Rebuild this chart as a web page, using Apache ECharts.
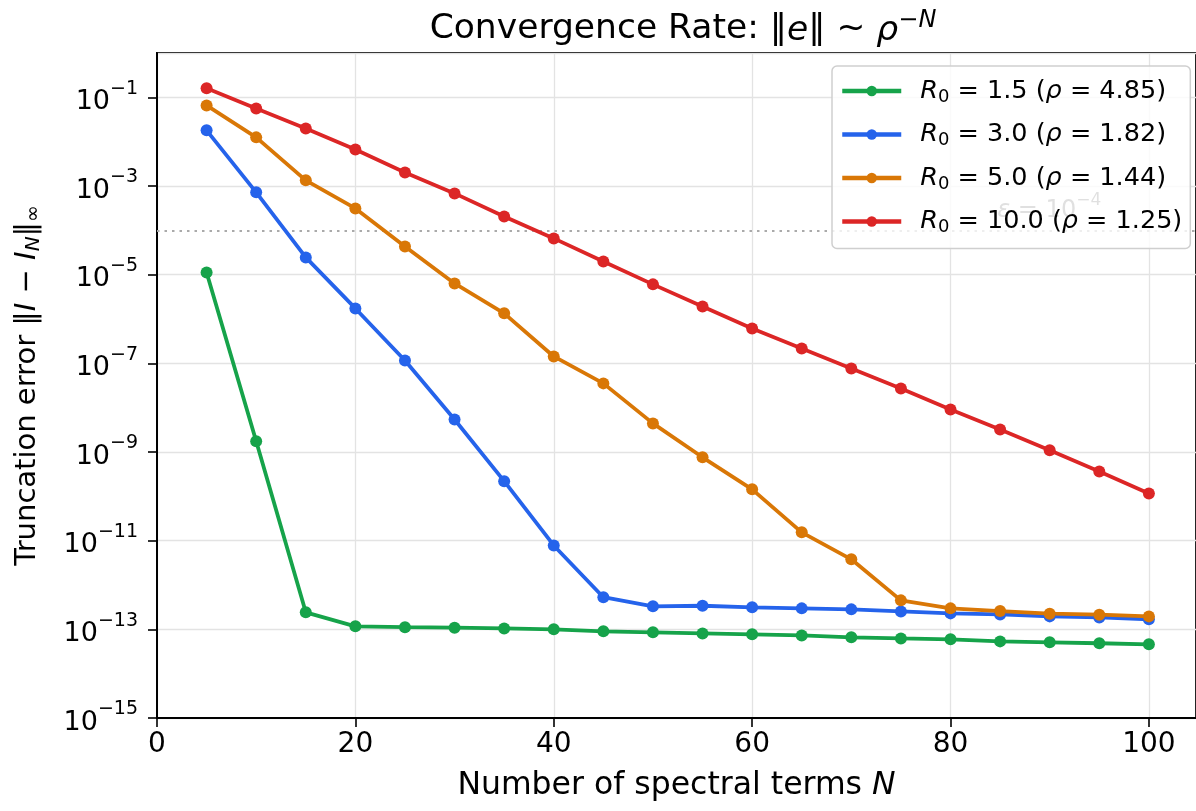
<!DOCTYPE html>
<html>
<head>
<meta charset="utf-8">
<script src="https://cdn.jsdelivr.net/npm/echarts@6/dist/echarts.min.js"></script>
<style>
  html, body { margin: 0; padding: 0; background: #fff; }
  #chart { width: 1196px; height: 811px; }
</style>
</head>
<body>
<div id="chart"></div>
<script>
// spectral terms N
const N_list = [5, 10, 15, 20, 25, 30, 35, 40, 45, 50, 55, 60, 65, 70, 75, 80, 85, 90, 95, 100];

// truncation error per R0
const err_r15 = [1.12e-5, 1.74e-9, 2.42e-13, 1.17e-13, 1.12e-13, 1.09e-13, 1.05e-13, 1.0e-13, 9.0e-14, 8.55e-14,
                 8.1e-14, 7.7e-14, 7.3e-14, 6.6e-14, 6.25e-14, 5.95e-14, 5.35e-14, 5.1e-14, 4.85e-14, 4.6e-14];
const err_r30 = [1.8e-2, 7.2e-4, 2.45e-5, 1.73e-6, 1.16e-7, 5.4e-9, 2.2e-10, 7.8e-12, 5.3e-13, 3.3e-13,
                 3.4e-13, 3.13e-13, 2.97e-13, 2.82e-13, 2.54e-13, 2.29e-13, 2.17e-13, 1.96e-13, 1.86e-13, 1.68e-13];
const err_r50 = [6.56e-2, 1.25e-2, 1.34e-3, 3.12e-4, 4.34e-5, 6.35e-6, 1.34e-6, 1.43e-7, 3.53e-8, 4.42e-9,
                 7.6e-10, 1.44e-10, 1.54e-11, 3.8e-12, 4.5e-13, 2.97e-13, 2.58e-13, 2.26e-13, 2.14e-13, 1.96e-13];
const err_r100 = [0.161, 5.62e-2, 1.99e-2, 6.68e-3, 2.02e-3, 6.81e-4, 2.06e-4, 6.58e-5, 1.99e-5, 6.04e-6,
                  1.92e-6, 6.14e-7, 2.17e-7, 7.67e-8, 2.72e-8, 9.12e-9, 3.23e-9, 1.09e-9, 3.65e-10, 1.16e-10];

const R0_list = ['1.5', '3.0', '5.0', '10.0'];
const rho_list = ['4.85', '1.82', '1.44', '1.25'];
const colors = ['#16a34a', '#2563eb', '#d97706', '#dc2626'];
const all_err = [err_r15, err_r30, err_r50, err_r100];

const eps = 1e-4;
const eps_label_x = 96;

const FONT = 'DejaVu Sans';
const names = R0_list.map((r, i) => 'R0 = ' + r + ' (rho = ' + rho_list[i] + ')');

const my_echart = echarts.init(document.getElementById('chart'), null, {renderer: 'canvas'});

let series = all_err.map((arr, i) => ({
  name: names[i],
  type: 'line',
  z: 2,
  data: N_list.map((n, j) => [n, arr[j]]),
  symbol: 'circle',
  symbolSize: 12,
  showSymbol: true,
  color: colors[i],
  lineStyle: { width: 3.8, color: colors[i] },
  itemStyle: { color: colors[i] },
  emphasis: { disabled: true },
}));

// dotted threshold line + its label
series[0].markLine = {
  silent: true,
  symbol: 'none',
  animation: false,
  z: 1,
  data: [
    [
      { coord: [0, eps], lineStyle: { color: '#aaa', width: 1.8, type: [2.5, 5] }, label: { show: false } },
      { coord: [104.75, eps] }
    ],
    [
      { coord: [0, eps], lineStyle: { color: 'rgba(0,0,0,0)', width: 0 },
        label: {
          show: true,
          position: 'insideEndTop',
          distance: 8,
          formatter: '{e|ε}{t| = 10}{s|−4}',
          rich: {
            e: { fontFamily: FONT, fontStyle: 'italic', fontSize: 24, color: '#666', lineHeight: 30, verticalAlign: 'bottom' },
            t: { fontFamily: FONT, fontSize: 24, color: '#666', lineHeight: 30, verticalAlign: 'bottom' },
            s: { fontFamily: FONT, fontSize: 17, color: '#666', lineHeight: 18, verticalAlign: 'top' }
          }
        }
      },
      { coord: [eps_label_x, eps] }
    ]
  ]
};

my_echart.setOption({
  animation: false,
  backgroundColor: '#fff',
  title: {
    text: 'Convergence Rate: ‖{i|e}‖ ~ {i|ρ}{s|−}{si|N}',
    left: 678,
    textAlign: 'center',
    top: 4,
    textStyle: {
      fontFamily: FONT, fontSize: 34.5, fontWeight: 'normal', color: '#000',
      rich: {
        i: { fontFamily: FONT, fontStyle: 'italic', fontSize: 34.5, lineHeight: 40, verticalAlign: 'bottom' },
        s: { fontFamily: FONT, fontSize: 24, lineHeight: 24, verticalAlign: 'top' },
        si: { fontFamily: FONT, fontStyle: 'italic', fontSize: 24, lineHeight: 24, verticalAlign: 'top' }
      }
    }
  },
  legend: {
    left: 832,
    top: 66,
    z: 50,
    orient: 'vertical',
    backgroundColor: 'rgba(255,255,255,0.8)',
    borderColor: '#cfcfcf',
    borderWidth: 1.5,
    borderRadius: 5,
    padding: [12, 8, 12, 8],
    itemWidth: 59,
    itemHeight: 13,
    itemGap: 15.5,
    lineStyle: { width: 4.5 },
    data: names,
    formatter: function (name) {
      const i = names.indexOf(name);
      return '{g|}{i|R}{sub|0}{t| = ' + R0_list[i] + ' (}{i|ρ}{t| = ' + rho_list[i] + ')}';
    },
    textStyle: {
      fontFamily: FONT, fontSize: 25.5, color: '#000',
      rich: {
        g: { width: 14, lineHeight: 30 },
        t: { fontFamily: FONT, fontSize: 25.5, lineHeight: 30, verticalAlign: 'middle' },
        i: { fontFamily: FONT, fontStyle: 'italic', fontSize: 25.5, lineHeight: 30, verticalAlign: 'middle' },
        sub: { fontFamily: FONT, fontSize: 18, lineHeight: 18, verticalAlign: 'bottom' }
      }
    }
  },
  grid: {
    left: 157,
    right: -3,
    top: 53,
    bottom: 93,
    show: true,
    borderColor: '#000',
    borderWidth: 2,
    containLabel: false
  },
  xAxis: {
    type: 'value',
    min: 0,
    max: 104.75,
    interval: 20,
    name: 'Number of spectral terms {i|N}',
    nameLocation: 'middle',
    nameGap: 52,
    nameTextStyle: {
      fontFamily: FONT, fontSize: 31.5, color: '#000',
      rich: { i: { fontFamily: FONT, fontStyle: 'italic', fontSize: 31.5 } }
    },
    axisLine: { show: true, onZero: false, lineStyle: { color: '#000', width: 2 } },
    axisTick: { show: true, length: 9, lineStyle: { color: '#000', width: 1.6 } },
    axisLabel: { show: true, margin: 13, showMaxLabel: false, fontFamily: FONT, fontSize: 28, color: '#000' },
    splitLine: { show: true, lineStyle: { color: '#e3e3e3', width: 1.3 } }
  },
  yAxis: {
    type: 'log',
    logBase: 10,
    min: 1e-15,
    max: 1,
    interval: 2,
    name: 'Truncation error ‖{i|I}{t| − }{i|I}{sub|N}{t|‖}{sub|∞}',
    nameLocation: 'middle',
    nameGap: 113,
    nameTextStyle: {
      fontFamily: FONT, fontSize: 29, color: '#000',
      rich: {
        t: { fontFamily: FONT, fontSize: 29, lineHeight: 34, verticalAlign: 'middle' },
        i: { fontFamily: FONT, fontStyle: 'italic', fontSize: 29, lineHeight: 34, verticalAlign: 'middle' },
        sub: { fontFamily: FONT, fontStyle: 'italic', fontSize: 20, lineHeight: 20, verticalAlign: 'bottom' }
      }
    },
    axisLine: { show: true, lineStyle: { color: '#000', width: 2 } },
    axisTick: { show: true, length: 9, lineStyle: { color: '#000', width: 1.6 } },
    axisLabel: {
      show: true,
      margin: 19,
      showMaxLabel: false,
      formatter: function (v) {
        const e = Math.round(Math.log10(v));
        if (e === 0) return '';
        return '{b|10}{s|' + (e < 0 ? '−' + (-e) : e) + '}';
      },
      rich: {
        b: { fontFamily: FONT, fontSize: 27, color: '#000', lineHeight: 36, verticalAlign: 'bottom' },
        s: { fontFamily: FONT, fontSize: 19, color: '#000', lineHeight: 22, verticalAlign: 'top' }
      }
    },
    splitLine: { show: true, lineStyle: { color: '#e3e3e3', width: 1.3 } }
  },
  series: series
});
</script>
</body>
</html>
